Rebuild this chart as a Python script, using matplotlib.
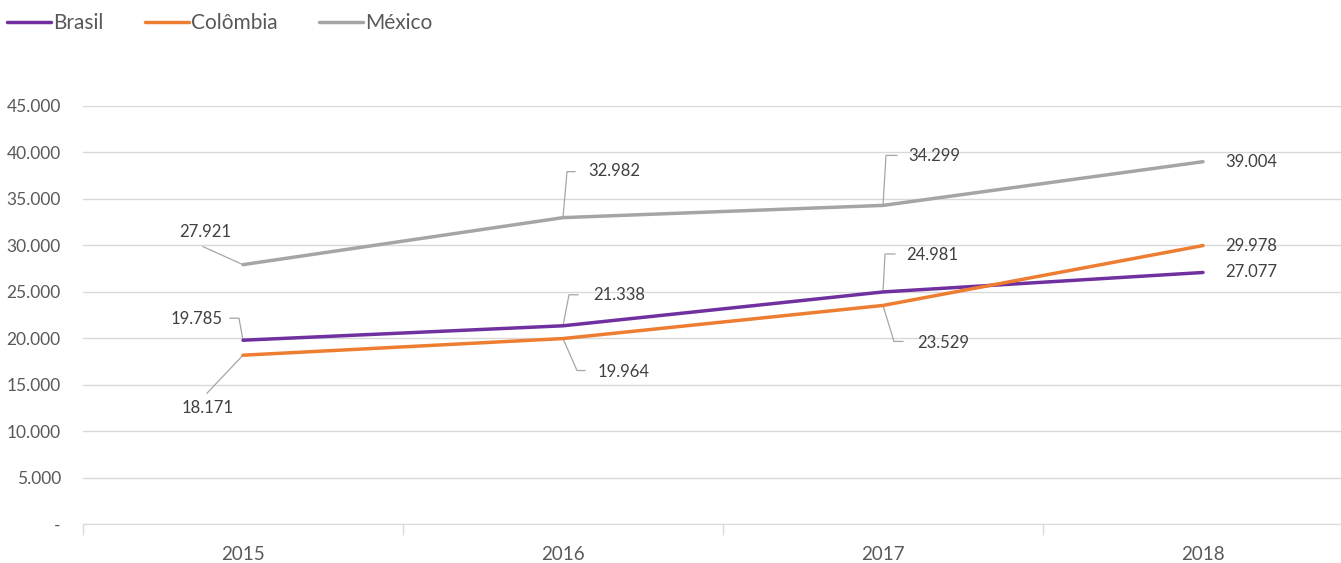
#!/usr/bin/env python
# -*- coding: utf-8 -*-

import matplotlib
matplotlib.use('Agg')
import matplotlib.pyplot as plt
from matplotlib.ticker import FuncFormatter

# dados
anos = ['2015', '2016', '2017', '2018']
brasil = [19785, 21338, 24981, 27077]
colombia = [18171, 19964, 23529, 29978]
mexico = [27921, 32982, 34299, 39004]

series = [('Brasil', brasil, '#7030A0'),
          ('Colômbia', colombia, '#ED7D31'),
          ('México', mexico, '#A5A5A5')]

# posição dos rótulos (offset em pixels: dx, dy para baixo, alinhamento, linha guia)
rotulos = {
    'Brasil': [(-20, -21, 'right', [(0, 0), (-4, -22), (-13, -22)]),
               (30, -31, 'left', [(0, 0), (6, -31), (15, -31)]),
               (23, -37, 'left', [(0, 0), (2, -38), (12, -38)]),
               (22, 0, 'left', None)],
    'Colômbia': [(-35, 53, 'center', [(0, 0), (-36, 38)]),
                 (35, 33, 'left', [(0, 0), (14, 32), (22, 32)]),
                 (34, 38, 'left', [(0, 0), (11, 36), (20, 36)]),
                 (22, 0, 'left', None)],
    'México': [(-38, -33, 'center', [(0, 0), (-40, -18)]),
               (25, -47, 'left', [(0, 0), (4, -46), (12, -46)]),
               (25, -49, 'left', [(0, 0), (3, -50), (14, -50)]),
               (22, 0, 'left', None)],
}

plt.rcParams['font.family'] = ['Lato', 'DejaVu Sans']

W, H = 1341, 563
fig = plt.figure(figsize=(W / 100, H / 100), dpi=100)
ax = fig.add_axes([83 / W, (H - 524) / H, 1280 / W, (524 - 106) / H])

x = list(range(len(anos)))
for nome, vals, cor in series:
    ax.plot(x, vals, color=cor, lw=2.5, label=nome, solid_capstyle='round', zorder=3)

ax.set_xlim(-0.5, 3.5)
ax.set_ylim(0, 45000)
ax.set_yticks(range(0, 45001, 5000))
ax.yaxis.set_major_formatter(FuncFormatter(
    lambda v, p: '-' if v == 0 else '{:,.0f}'.format(v).replace(',', '.')))
ax.set_xticks(x)
ax.set_xticklabels(anos)
ax.set_xticks([-0.5, 0.5, 1.5, 2.5, 3.5], minor=True)
ax.tick_params(axis='x', which='major', length=0, pad=16, labelsize=13.5, labelcolor='#595959')
ax.tick_params(axis='x', which='minor', length=8, color='#D9D9D9', width=1)
ax.tick_params(axis='y', length=0, pad=16, labelsize=12.5, labelcolor='#595959')
ax.grid(axis='y', color='#D9D9D9', lw=1)
ax.set_axisbelow(True)
for s in ['top', 'right', 'left']:
    ax.spines[s].set_visible(False)
ax.spines['bottom'].set_color('#D9D9D9')

# rótulos com linhas guia
fig.canvas.draw()
for nome, vals, cor in series:
    for i, v in enumerate(vals):
        dx, dy, ha, guia = rotulos[nome][i]
        px, py = ax.transData.transform((i, v))
        if guia:
            gx = [px + a for a, b in guia]
            gy = [py - b for a, b in guia]
            ax.plot(gx, gy, color='#A6A6A6', lw=0.9, transform=None, zorder=2)
        ax.text(px + dx, py - dy, '{:,.0f}'.format(v).replace(',', '.'),
                transform=None, ha=ha, va='center', fontsize=12, color='#404040')

leg = fig.legend(loc='upper left', bbox_to_anchor=(0.0, 0.99), ncol=3, frameon=False,
                 fontsize=15, handlelength=2.1, handletextpad=0.1, columnspacing=2.0,
                 borderaxespad=0.0, borderpad=0.35)
for t in leg.get_texts():
    t.set_color('#595959')

fig.savefig('out.png', dpi=100)
